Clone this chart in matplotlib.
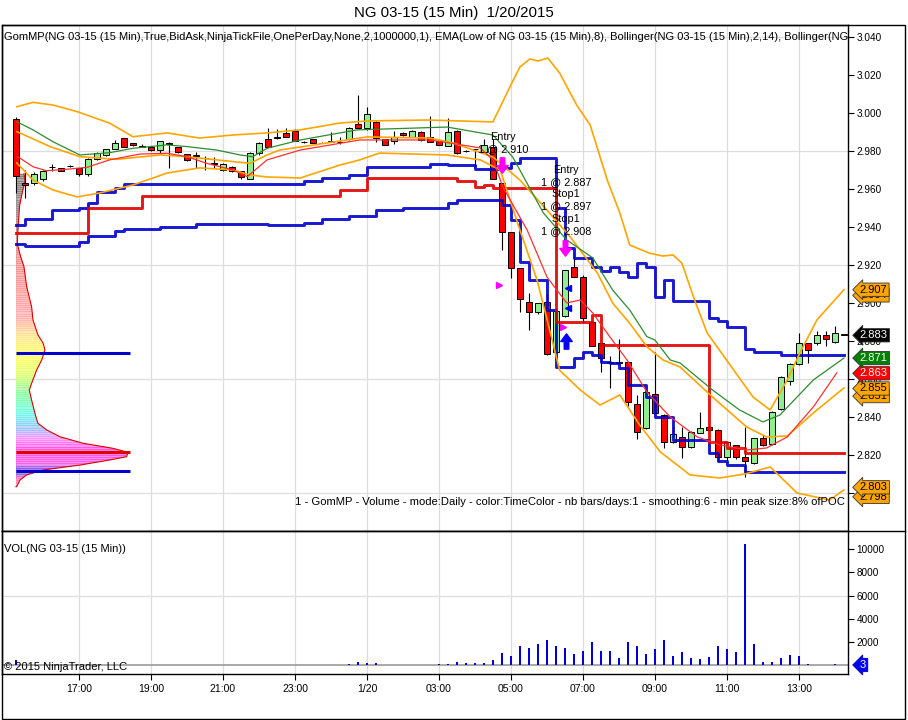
import numpy as np
import matplotlib
matplotlib.use("Agg")
import matplotlib.pyplot as plt
import matplotlib.transforms as mtransforms
from matplotlib.colors import LinearSegmentedColormap
from matplotlib.lines import Line2D
from matplotlib.patches import Polygon, Rectangle
from matplotlib.path import Path

plt.rcParams['font.family'] = ['Liberation Sans', 'DejaVu Sans']

# NG 03-15, 15 min bars, first bar 15:15 (bar index = 0)
opens = [
    2.997, 2.963, 2.963, 2.965, 2.9714, 2.971, 2.9721, 2.971, 2.968, 2.976,
    2.978, 2.981, 2.987, 2.984, 2.9825, 2.982, 2.9805, 2.984, 2.982, 2.9784,
    2.9775, 2.9762, 2.9733, 2.970, 2.9718, 2.9696, 2.965, 2.979, 2.9862, 2.9868,
    2.9896, 2.9907, 2.9845, 2.9862, 2.9842, 2.9847, 2.9845, 2.9862, 2.994, 2.9919,
    2.995, 2.9862, 2.985, 2.9896, 2.9875, 2.9901, 2.9872, 2.9854, 2.9828, 2.9907,
    2.980, 2.981, 2.9797, 2.9823, 2.963, 2.9375, 2.9183, 2.9007, 2.895, 2.9007,
    2.874, 2.893, 2.9188, 2.9138, 2.8901, 2.8788, 2.8686, 2.8688, 2.8688, 2.8468,
    2.834, 2.8521, 2.841, 2.827, 2.8296, 2.824, 2.8318, 2.8349, 2.8332, 2.8188,
    2.825, 2.8188, 2.816, 2.8288, 2.8256, 2.844, 2.8591, 2.8679, 2.8788, 2.8788,
    2.883, 2.8796, 2.8835]
highs = [
    2.998, 2.970, 2.969, 2.970, 2.973, 2.971, 2.9725, 2.971, 2.9765, 2.9795,
    2.981, 2.986, 2.987, 2.984, 2.9838, 2.982, 2.985, 2.9848, 2.982, 2.9784,
    2.9795, 2.9775, 2.977, 2.9735, 2.972, 2.9696, 2.9795, 2.9845, 2.992, 2.9915,
    2.992, 2.9915, 2.9855, 2.9865, 2.9845, 2.990, 2.9872, 2.9925, 3.0095, 3.003,
    2.996, 2.9865, 2.9907, 2.990, 2.991, 2.9905, 2.9984, 2.9855, 2.9974, 2.991,
    2.9805, 2.9812, 2.9862, 2.9862, 2.963, 2.9375, 2.9183, 2.9055, 2.900, 2.9045,
    2.8965, 2.9175, 2.9245, 2.9145, 2.8905, 2.879, 2.872, 2.8811, 2.869, 2.8514,
    2.854, 2.8744, 2.8415, 2.8345, 2.8345, 2.8325, 2.8425, 2.835, 2.8335, 2.827,
    2.8255, 2.8349, 2.829, 2.8305, 2.843, 2.8615, 2.8685, 2.884, 2.879, 2.885,
    2.885, 2.8879, 2.8838]
lows = [
    2.958, 2.955, 2.962, 2.964, 2.9696, 2.9694, 2.9718, 2.967, 2.967, 2.9755,
    2.9775, 2.981, 2.982, 2.9828, 2.982, 2.980, 2.979, 2.9709, 2.979, 2.9745,
    2.9709, 2.970, 2.971, 2.9695, 2.969, 2.965, 2.965, 2.978, 2.982, 2.9865,
    2.9875, 2.9854, 2.984, 2.984, 2.984, 2.9845, 2.9838, 2.9858, 2.9915, 2.991,
    2.9845, 2.983, 2.9838, 2.988, 2.9875, 2.9855, 2.9845, 2.983, 2.9825, 2.9785,
    2.9795, 2.9716, 2.9795, 2.965, 2.928, 2.9132, 2.8954, 2.8858, 2.894, 2.8725,
    2.8735, 2.8925, 2.9135, 2.890, 2.8775, 2.8635, 2.8553, 2.868, 2.846, 2.8282,
    2.8335, 2.842, 2.8235, 2.8265, 2.8185, 2.8235, 2.8315, 2.833, 2.8165, 2.8175,
    2.818, 2.8086, 2.8155, 2.8245, 2.825, 2.8435, 2.857, 2.8675, 2.8685, 2.878,
    2.8775, 2.879, 2.883]
closes = [
    2.967, 2.962, 2.968, 2.9695, 2.9716, 2.9696, 2.9721, 2.968, 2.976, 2.979,
    2.981, 2.984, 2.982, 2.983, 2.9822, 2.9805, 2.985, 2.9835, 2.9793, 2.9753,
    2.978, 2.9762, 2.9733, 2.9732, 2.9696, 2.9665, 2.979, 2.9844, 2.9823, 2.9872,
    2.9875, 2.9854, 2.9847, 2.9841, 2.9842, 2.985, 2.9845, 2.9919, 2.9919, 2.9995,
    2.987, 2.9832, 2.9872, 2.9884, 2.9907, 2.9858, 2.9849, 2.9832, 2.9901, 2.979,
    2.9801, 2.981, 2.9832, 2.9651, 2.9375, 2.9183, 2.902, 2.895, 2.8998, 2.8732,
    2.8956, 2.9174, 2.9135, 2.892, 2.8775, 2.871, 2.8688, 2.8686, 2.848, 2.832,
    2.853, 2.842, 2.8267, 2.8309, 2.824, 2.832, 2.834, 2.8332, 2.8188, 2.8267,
    2.8191, 2.8168, 2.8288, 2.8253, 2.8428, 2.8609, 2.8679, 2.8788, 2.8753, 2.8832,
    2.8809, 2.8841, 2.883]
volumes = [
    430, 0, 0, 0, 0, 0, 0, 0, 0, 0,
    0, 0, 0, 0, 0, 0, 0, 0, 0, 0,
    0, 0, 0, 0, 0, 0, 40, 0, 0, 0,
    0, 0, 0, 0, 0, 0, 0, 60, 230, 200,
    200, 0, 0, 0, 0, 0, 0, 60, 60, 290,
    140, 150, 140, 430, 1070, 780, 1640, 1470, 1820, 2160,
    1640, 1470, 950, 1240, 1990, 1210, 1210, 600, 1990, 1640,
    950, 1380, 2160, 780, 1120, 600, 520, 720, 1640, 1380,
    1120, 10460, 1820, 260, 260, 600, 860, 780, 90, 0,
    0, 90, 3]

# Bollinger bands (upper / middle / lower), EMA lines: (bar, price) readings
bb_up_x = [0.1, 1.9, 4.1, 6.8, 10.4, 13, 16.8, 20.4, 24.1, 27.9, 31.6, 36, 39, 45.7, 53,
           55.1, 56, 57.1, 58, 59.1, 60.4, 62.3, 63.8, 65.7, 67.1, 68.2, 70.4, 71.9, 73,
           74, 75.4, 76.8, 78.8, 81.9, 83.8, 85.7, 87.1, 89, 92]
bb_up_y = [3.0033, 3.0056, 3.0042, 3.0007, 2.9947, 2.9875, 2.9895, 2.9868, 2.9884, 2.9895,
           2.9911, 2.9947, 2.9958, 2.9963, 2.9953, 3.0158, 3.0242, 3.0284, 3.0274, 3.0289,
           3.0211, 3.0042, 2.9937, 2.9647, 2.9474, 2.9305, 2.9262, 2.9247, 2.9253,
           2.9209, 2.9016, 2.8842, 2.8710, 2.8505, 2.8437, 2.8595, 2.8737, 2.8911, 2.907]
bb_mid_x = [0.1, 3.8, 7.1, 11.2, 16, 19, 22.3, 26, 27.9, 29.3, 31.6, 39, 46, 48.6, 53, 56,
            59, 61.6, 64.6, 66.3, 68.2, 70.1, 71.9, 73.8, 77.4, 81.2, 83.4, 85.7, 88.6, 92]
bb_mid_y = [2.9902, 2.9823, 2.977, 2.9756, 2.9779, 2.977, 2.9753, 2.9735, 2.9779, 2.9805,
            2.9821, 2.9874, 2.9868, 2.9842, 2.9768, 2.9647, 2.9489, 2.9347, 2.9158, 2.900,
            2.8893, 2.8770, 2.8700, 2.8663, 2.8505, 2.8347, 2.8295, 2.830, 2.8421, 2.8553]
bb_low_x = [0.1, 1.9, 4.1, 6.8, 9.3, 13, 16.8, 20.4, 24.1, 26, 27.9, 31.6, 36, 38.2, 40.4,
            47.9, 51.6, 53.8, 56, 57.9, 59.3, 60.4, 62.7, 64.9, 67.1, 69.3, 71.6, 74.9,
            78.2, 81, 83.8, 86.8, 90.4, 92]
bb_low_y = [2.9737, 2.9647, 2.9595, 2.9558, 2.9579, 2.9621, 2.9684, 2.9711, 2.970, 2.9674,
            2.9663, 2.9658, 2.9726, 2.9753, 2.9789, 2.9779, 2.9753, 2.970, 2.9384, 2.9121,
            2.8858, 2.8647, 2.8542, 2.8463, 2.8516, 2.8358, 2.8216, 2.8095, 2.8079, 2.810,
            2.8137, 2.800, 2.7963, 2.8016]
green_x = [0.1, 1.9, 4.1, 7.1, 10.4, 13, 16.8, 19, 22.3, 24.9, 26.3, 27.9, 31.6, 37.9, 47.9,
           53, 55.2, 58.6, 61.2, 64.1, 66.3, 68.2, 70.1, 71, 72.7, 73.8, 77.4, 80.4, 83, 84.9,
           88.6, 92]
green_y = [2.9954, 2.9911, 2.9849, 2.9779, 2.9791, 2.9814, 2.9832, 2.9823, 2.9805, 2.9779,
           2.977, 2.9814, 2.9858, 2.9911, 2.9926, 2.9884, 2.9768, 2.9474, 2.9332, 2.9237,
           2.9068, 2.8963, 2.8823, 2.8805, 2.8700, 2.8684, 2.8542, 2.8437, 2.8374, 2.8411,
           2.8595, 2.871]
ema_x = [0.2, 1.9, 3.4, 5.7, 7.9, 10.4, 13.8, 16.8, 19, 21.2, 24.1, 25.7, 27.9, 31.6, 38.2,
         46, 51.6, 53, 54.1, 56.8, 59, 61.2, 62.7, 64.1, 66, 67.9, 70.1, 72.7, 75.7, 78.2,
         81.2, 83.4, 85.7, 88.6, 91.2]
ema_y = [2.977, 2.9717, 2.9696, 2.9704, 2.9714, 2.9753, 2.9784, 2.9788, 2.977, 2.9735,
         2.970, 2.9665, 2.9753, 2.9805, 2.9858, 2.9858, 2.9816, 2.9753, 2.9611, 2.9384,
         2.9137, 2.900, 2.9016, 2.8947, 2.8821, 2.870, 2.8532, 2.840, 2.8295, 2.8253,
         2.8226, 2.8237, 2.8295, 2.8453, 2.8632]

# GomMP value area high / low and POC step lines (start bar, price)
vah_x = [0, 1, 4, 7, 8, 9, 11, 12, 32, 34, 37, 39, 46, 48, 51, 54, 55, 56, 60, 61, 62, 64,
         65, 66, 67, 68, 69, 70, 71, 72, 73, 77, 78, 79, 81, 82, 85]
vah_y = [2.9411, 2.9442, 2.9489, 2.9500, 2.9526, 2.9584, 2.9605, 2.9626, 2.9642, 2.9656,
         2.9674, 2.9717, 2.9730, 2.9726, 2.9705, 2.9712, 2.9737, 2.9765, 2.9500, 2.9288,
         2.9236, 2.9188, 2.9170, 2.9188, 2.9165, 2.9135, 2.9209, 2.9191, 2.9033, 2.9120,
         2.9012, 2.8923, 2.8905, 2.8875, 2.8756, 2.8742, 2.8726]
val_x = [0, 1, 7, 8, 11, 12, 16, 20, 28, 32, 34, 37, 40, 43, 48, 49, 54, 55, 56, 57, 59,
         60, 62, 63, 64, 65, 66, 67, 68, 70, 71, 73, 77, 78, 79, 81]
val_y = [2.9309, 2.9300, 2.9323, 2.9353, 2.9381, 2.9389, 2.9402, 2.9418, 2.9412, 2.9423,
         2.9442, 2.9459, 2.9489, 2.9502, 2.9525, 2.9542, 2.9516, 2.9437, 2.9216, 2.9120,
         2.8963, 2.8663, 2.8710, 2.8742, 2.8726, 2.8691, 2.8682, 2.8658, 2.8568, 2.8507,
         2.8402, 2.8279, 2.8209, 2.8170, 2.8147, 2.8112]
poc_x = [0, 8, 14, 36, 39, 49, 51, 52, 53, 60, 64, 65, 77, 79, 81]
poc_y = [2.9367, 2.9502, 2.9565, 2.9595, 2.9657, 2.9642, 2.9612, 2.9621, 2.9604, 2.8901,
         2.8937, 2.8779, 2.8270, 2.8235, 2.8212]
last_bar = 92

# daily volume profile on the left (price, length in bars)
prof_price = [2.968, 2.964, 2.958, 2.951, 2.944, 2.937, 2.931, 2.9244, 2.9191, 2.9086,
              2.898, 2.8911, 2.8832, 2.8788, 2.8753, 2.870, 2.8647, 2.8577, 2.8542, 2.8489,
              2.8419, 2.8367, 2.8332, 2.8296, 2.8262, 2.8235, 2.8214, 2.8191, 2.8174, 2.8147,
              2.8121, 2.8095, 2.8068, 2.8033]
prof_len = [0.9, 1.0, 0.7, 0.4, 0.3, 0.2, 0.15, 0.52, 0.89, 1.19,
            1.74, 1.89, 2.44, 3.03, 3.22, 2.86, 2.3, 1.74, 1.48, 1.74,
            2.11, 2.44, 3.41, 4.89, 7.44, 10.78, 12.44, 12.3, 10.44, 7.11,
            3.0, 1.19, 0.44, 0.08]
prof_levels = [2.8735, 2.8214, 2.8116]
prof_level_colors = ['#0000CC', '#E00000', '#0000CC']
prof_level_end = 12.7

# executions
trade_text = [(54.1, 2.9874, 'Entry'), (54.1, 2.9811, '1 @ 2.910'),
              (61.1, 2.9700, 'Entry'), (61.1, 2.9637, '1 @ 2.887'),
              (61.1, 2.9574, 'Stop1'), (61.1, 2.9511, '1 @ 2.897'),
              (61.1, 2.9442, 'Stop1'), (61.1, 2.9379, '1 @ 2.908')]
sell_arrows = [(54.0, 2.9726), (61.0, 2.9290)]
buy_arrows = [(61.1, 2.8800)]
magenta_marks = [(53.7, 2.9095), (60.8, 2.8874)]
blue_marks = [(61.3, 2.9079), (61.3, 2.8974)]

price_ticks = [2.800, 2.820, 2.840, 2.860, 2.880, 2.900, 2.920, 2.940, 2.960, 2.980,
               3.000, 3.020, 3.040]
price_grid = [2.80, 2.86, 2.92, 2.98, 3.04]
vol_ticks = [2000, 4000, 6000, 8000, 10000]
time_pos = [7, 15, 23, 31, 39, 47, 55, 63, 71, 79, 87]
time_labels = ['17:00', '19:00', '21:00', '23:00', '1/20', '03:00', '05:00', '07:00',
               '09:00', '11:00', '13:00']
# right-axis value flags (value, fill, text colour)
flags = [(2.798, '#FFA500', 'black'), (2.803, '#FFA500', 'black'),
         (2.851, '#FFA500', 'black'), (2.855, '#FFA500', 'black'),
         (2.863, '#FF0000', 'white'), (2.871, '#008000', 'white'),
         (2.883, '#000000', 'white'), (2.904, '#FFA500', 'black'),
         (2.907, '#FFA500', 'black')]
last_volume = 3

header = ("GomMP(NG 03-15 (15 Min),True,BidAsk,NinjaTickFile,OnePerDay,None,2,1000000,1), "
          "EMA(Low of NG 03-15 (15 Min),8), Bollinger(NG 03-15 (15 Min),2,14), Bollinger(NG")
footer = ("1 - GomMP - Volume - mode:Daily - color:TimeColor - nb bars/days:1 - "
          "smoothing:6 - min peak size:8% ofPOC")

# ---------------------------------------------------------------
W, H = 908, 720
fig = plt.figure(figsize=(W / 100, H / 100), dpi=100)


def fx(px):
    return px / W


def fy(py):
    return 1 - py / H


ax = fig.add_axes([fx(2), fy(531), fx(848) - fx(2), fy(25) - fy(531)])
axv = fig.add_axes([fx(2), fy(674), fx(848) - fx(2), fy(531) - fy(674)], sharex=ax)

grid_c = '#DDDDDD'
for p in price_grid:
    ax.axhline(p, color=grid_c, lw=0.9, zorder=0)
for t in time_pos:
    ax.axvline(t, color=grid_c, lw=0.9, zorder=0)
    axv.axvline(t, color=grid_c, lw=0.9, zorder=0)
axv.axhline(6000, color=grid_c, lw=0.9, zorder=0)

# volume profile
poly = [(0, prof_price[0])] + list(zip(prof_len, prof_price)) + [(0, prof_price[-1])]
clip_poly = Polygon(poly, closed=True, fc='none', ec='none')
ax.add_patch(clip_poly)
stops = [(2.800, '#FF9CC8'), (2.807, '#FF7CC0'), (2.811, '#5858F0'), (2.815, '#FF60EC'),
         (2.822, '#FF50DC'), (2.828, '#FF90FF'), (2.834, '#98C8FF'), (2.842, '#70FFE8'),
         (2.852, '#88FFA0'), (2.862, '#E0FF70'), (2.872, '#FFFF60'), (2.882, '#FFE890'),
         (2.892, '#FFB0B0'), (2.910, '#FF9C9C'), (2.930, '#E89090'), (2.945, '#A09090'),
         (2.970, '#808080')]
lo_p, hi_p = stops[0][0], stops[-1][0]
fracs = [min(1.0, max(0.0, round((p - lo_p) / (hi_p - lo_p), 6))) for p, _ in stops]
cmap = LinearSegmentedColormap.from_list('timecolor', list(zip(fracs, [col for _, col in stops])))
img = ax.imshow(np.linspace(0, 1, 400).reshape(-1, 1), extent=[0, 13, lo_p, hi_p],
                origin='lower', aspect='auto', cmap=cmap, zorder=1)
img.set_clip_path(clip_poly)
stripes = ax.hlines(np.arange(2.8005, 2.970, 0.001), 0, 13, color='white', lw=0.4,
                    alpha=0.6, zorder=1.1)
stripes.set_clip_path(clip_poly)
ax.plot(list(prof_len) + [0], list(prof_price) + [prof_price[-1]], color='#DD0000', lw=0.8,
        zorder=1.2)
for lv, col in zip(prof_levels, prof_level_colors):
    ax.plot([0, prof_level_end], [lv, lv], color=col, lw=2.2, zorder=1.3,
            solid_capstyle='butt')

# candles
idx = np.arange(len(opens))
o = np.array(opens)
c = np.array(closes)
up = c >= o
ax.vlines(idx, lows, highs, color='black', lw=0.8, zorder=3)
ax.bar(idx, np.maximum(np.abs(c - o), 0.0002), 0.68, bottom=np.minimum(o, c),
       color=np.where(up, '#90EE90', '#FF0000'), edgecolor='black', lw=0.7, zorder=3.2)

# step lines
for xs, ys, col in [(vah_x, vah_y, '#0000CC'), (val_x, val_y, '#0000CC'), (poc_x, poc_y, '#E00000')]:
    ax.step(list(xs) + [last_bar], list(ys) + [ys[-1]], where='post', color=col, lw=2.1,
            alpha=0.9, zorder=3.5)

# indicator lines
for xs, ys in [(bb_up_x, bb_up_y), (bb_mid_x, bb_mid_y), (bb_low_x, bb_low_y)]:
    ax.plot(xs, ys, color='#FFA500', lw=1.2, zorder=4)
ax.plot(green_x, green_y, color='#2E8B2E', lw=0.9, zorder=4)
ax.plot(ema_x, ema_y, color='#FF3030', lw=0.9, zorder=4)

# executions
down_arrow = Path([(-0.3, 1), (0.3, 1), (0.3, 0), (0.75, 0), (0, -1), (-0.75, 0), (-0.3, 0), (-0.3, 1)],
                  closed=True)
up_arrow = Path([(-0.3, -1), (0.3, -1), (0.3, 0), (0.75, 0), (0, 1), (-0.75, 0), (-0.3, 0), (-0.3, -1)],
                closed=True)
ax.plot([p[0] for p in sell_arrows], [p[1] for p in sell_arrows], ls='none', marker=down_arrow,
        ms=11, color='#FF00FF', zorder=6)
ax.plot([p[0] for p in buy_arrows], [p[1] for p in buy_arrows], ls='none', marker=up_arrow,
        ms=11, color='#0000FF', zorder=6)
ax.plot([p[0] for p in magenta_marks], [p[1] for p in magenta_marks], ls='none', marker='>',
        ms=5, color='#FF00FF', zorder=6)
ax.plot([p[0] for p in blue_marks], [p[1] for p in blue_marks], ls='none', marker='<',
        ms=5, color='#0000FF', zorder=6)
for x, y, s in trade_text:
    ax.text(x, y, s, ha='center', va='center', fontsize=7.8, zorder=7)

# volume
axv.axhline(0, color='#999999', lw=1.2, zorder=2)
axv.bar(idx, volumes, 0.28, color='#0000DD', zorder=3)

# axes styling
ax.set_xlim(-1.55, 92.45)
ax.set_ylim(2.780, 3.0463)
axv.set_ylim(-780, 11580)
for a in (ax, axv):
    a.yaxis.tick_right()
    for sp in a.spines.values():
        sp.set_color('black')
        sp.set_linewidth(1.0)
    a.tick_params(axis='y', direction='out', length=4, width=0.8, pad=2, labelsize=7.2,
                  right=True, left=False)
ax.set_yticks(price_ticks)
ax.set_yticklabels(['%.3f' % p for p in price_ticks])
ax.tick_params(axis='x', bottom=False, labelbottom=False)
axv.set_yticks(vol_ticks)
axv.set_yticklabels([str(v) for v in vol_ticks])
axv.set_xticks(time_pos)
axv.set_xticklabels(time_labels)
axv.tick_params(axis='x', direction='out', length=4, width=0.8, pad=3, labelsize=7.5)

# value flags on the right axis
tr = mtransforms.blended_transform_factory(ax.transAxes, ax.transData)
for v, fc, tc in flags:
    ax.text(1.014, v, '%.3f' % v, transform=tr, ha='left', va='center', fontsize=8, color=tc,
            bbox=dict(boxstyle='larrow,pad=0.15', fc=fc, ec='#333333', lw=0.6),
            clip_on=False, zorder=10)
trv = mtransforms.blended_transform_factory(axv.transAxes, axv.transData)
axv.text(1.014, 0, str(last_volume), transform=trv, ha='left', va='center', fontsize=8,
         color='white', bbox=dict(boxstyle='larrow,pad=0.15', fc='#0000FF', ec='#0000AA', lw=0.6),
         clip_on=False, zorder=10)

# texts
fig.text(0.5, fy(13), 'NG 03-15 (15 Min)  1/20/2015', ha='center', va='center', fontsize=10.8)
ax.text(0.002, 0.976, header, transform=ax.transAxes, ha='left', va='center', fontsize=8.05,
        clip_on=True, zorder=8)
ax.text(0.9965, 0.057, footer, transform=ax.transAxes, ha='right', va='center', fontsize=8.1,
        zorder=8)
axv.text(0.002, 0.874, 'VOL(NG 03-15 (15 Min))', transform=axv.transAxes, ha='left',
         va='center', fontsize=8)
axv.text(0.002, 0.05, '\u00a9 2015 NinjaTrader, LLC', transform=axv.transAxes, ha='left',
         va='center', fontsize=8, zorder=8)

# outer frame and pane separator
fig.add_artist(Rectangle((fx(2), fy(719)), fx(905) - fx(2), fy(25) - fy(719),
                         transform=fig.transFigure, fill=False, ec='black', lw=1.0))
fig.add_artist(Line2D([fx(2), fx(905)], [fy(531), fy(531)], transform=fig.transFigure,
                      color='black', lw=1.0))

fig.savefig('out.png', dpi=100)
